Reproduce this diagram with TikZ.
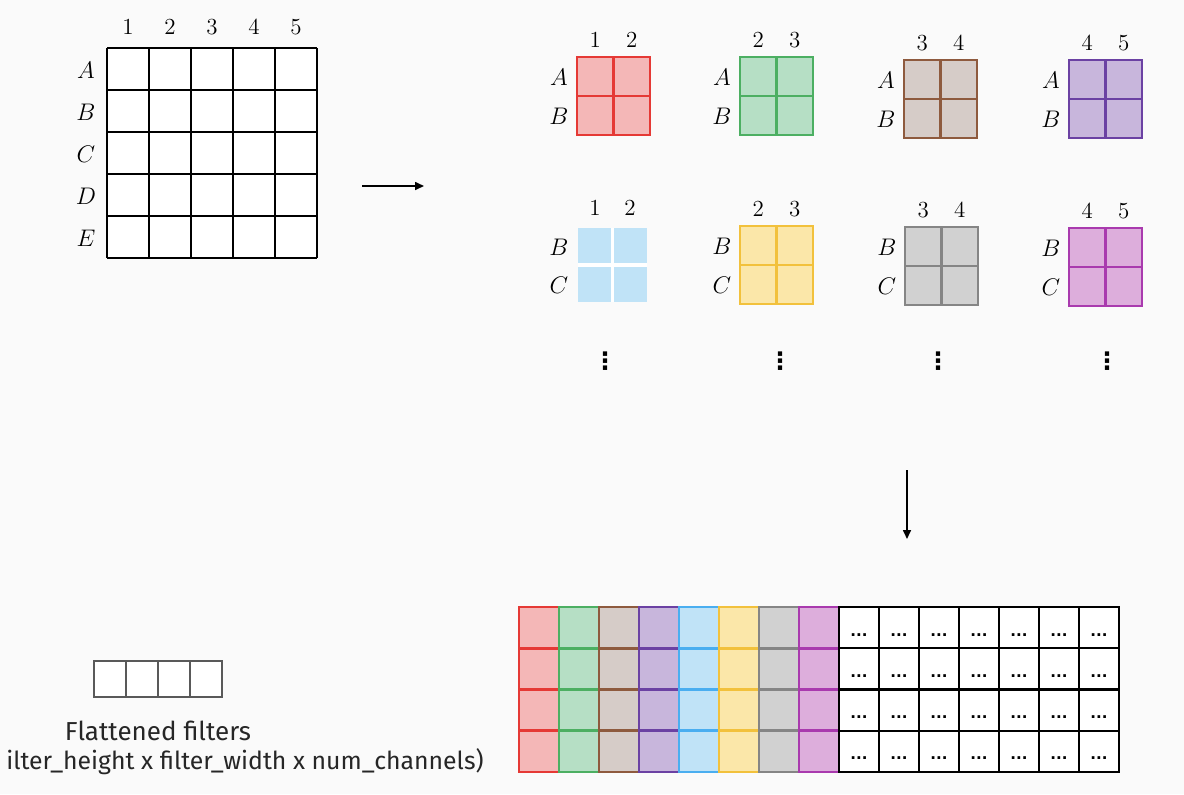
\documentclass[tikz,border=0pt]{standalone}
\usepackage{fontspec}
\setsansfont{Fira Sans}
\newfontfamily\symfont{DejaVu Sans}
\usetikzlibrary{arrows.meta, positioning}

\definecolor{bgpage}{HTML}{FAFAFA}
\definecolor{redL}{HTML}{E53935}
\definecolor{redF}{HTML}{F4B7B7}
\definecolor{greenL}{HTML}{4CAF62}
\definecolor{greenF}{HTML}{B6DFC5}
\definecolor{brownL}{HTML}{8E5A3E}
\definecolor{brownF}{HTML}{D6CCC8}
\definecolor{purpleL}{HTML}{6B41A3}
\definecolor{purpleF}{HTML}{C8B6DC}
\definecolor{blueL}{HTML}{4AAEF0}
\definecolor{blueF}{HTML}{C0E3F7}
\definecolor{yellowL}{HTML}{F2C13C}
\definecolor{yellowF}{HTML}{FBE7A9}
\definecolor{grayL}{HTML}{858585}
\definecolor{grayF}{HTML}{D1D1D1}
\definecolor{magentaL}{HTML}{A93AAE}
\definecolor{magentaF}{HTML}{DDAEDC}

\tikzset{
    lbl/.style={inner sep=0pt, font=\fontsize{11.5}{13}\selectfont},
    vdotstxt/.style={inner sep=0pt, font=\symfont\bfseries\fontsize{12}{13}\selectfont},
    gridline/.style={draw=black, line width=1pt},
    patch/.style={line width=1.3pt},
    flatcell/.style={draw=black!65, fill=white, line width=0.8pt},
    dotcell/.style={draw=black, fill=white, line width=1.2pt},
    dotstxt/.style={inner sep=0pt, anchor=base, font=\symfont\bfseries\fontsize{7.5}{9}\selectfont},
    caption/.style={inner sep=0pt, font=\sffamily\fontsize{13}{15}\selectfont, text=black!85},
    arrow/.style={-{Triangle[length=4.5pt, width=4pt]}, line width=0.8pt}
}

\begin{document}
\begin{tikzpicture}[x=0.5pt, y=-0.5pt]

        \useasboundingbox[fill=bgpage] (0,0) rectangle (1184,794);

        % -----------------------------------------------------------------
        % INPUT GRID 5x5
        % -----------------------------------------------------------------
        \fill[white] (107,48) rectangle (317,258);
        \foreach \k in {0,...,5} {
            \draw[gridline] (107+42*\k,48) -- (107+42*\k,258);
            \draw[gridline] (107,48+42*\k) -- (317,48+42*\k);
        }
        \foreach \i in {1,...,5} {
            \node[lbl] (col\i) at (86+42*\i, 27) {\i};
        }
        \foreach \r [count=\i] in {A,B,C,D,E} {
            \node[lbl] (row\r) at (86, 28+42*\i) {$\r$};
        }

        \coordinate (gridOut) at (362,186);
        \coordinate (patchIn) at (424,186);
        \draw[arrow] (gridOut) -- (patchIn);

        % -----------------------------------------------------------------
        % PATCHES 2x2
        % -----------------------------------------------------------------
        \foreach \px/\py/\pc/\ca/\cb/\ra/\rb [count=\n] in {577/57/red/1/2/A/B, 740/57/green/2/3/A/B, 904/60/brown/3/4/A/B, 1069/60/purple/4/5/A/B, 740/226/yellow/2/3/B/C, 905/227/gray/3/4/B/C, 1069/228/magenta/4/5/B/C} {
            \draw[patch, draw=\pc L, fill=\pc F] (\px,\py) rectangle ++(73,78);
            \draw[patch, draw=\pc L] (\px+36.5,\py) -- ++(0,78) (\px,\py+39) -- ++(73,0);
            \node[lbl] (pcol\n-1) at (\px+18.25,\py-17) {\ca};
            \node[lbl] (pcol\n-2) at (\px+54.75,\py-17) {\cb};
            \node[lbl] (prow\n-1) at (\px-18,\py+20) {$\ra$};
            \node[lbl] (prow\n-2) at (\px-18,\py+59) {$\rb$};
        }

        % patch senza bordo (azzurro)
        \fill[blueF] (578,228) rectangle ++(69,74);
        \draw[white, line width=1.6pt] (612.5,228) -- ++(0,74) (578,265) -- ++(69,0);
        \node[lbl] (pcolB-1) at (595,208) {1};
        \node[lbl] (pcolB-2) at (630,208) {2};
        \node[lbl] (prowB-1) at (559,247) {$B$};
        \node[lbl] (prowB-2) at (559,285) {$C$};

        \foreach \dx [count=\n] in {605,780,938,1107} {
            \node[vdotstxt] (vdots\n) at (\dx,361) {⋮};
        }

        \coordinate (patchOut) at (907,470);
        \coordinate (matIn) at (907,539);
        \draw[arrow] (patchOut) -- (matIn);

        % -----------------------------------------------------------------
        % MATRICE DEI FILTRI APPIATTITI
        % -----------------------------------------------------------------
        \foreach \pc [count=\k from 0] in {red,green,brown,purple,blue,yellow,gray,magenta} {
            \foreach \r in {0,...,3} {
                \draw[patch, draw=\pc L, fill=\pc F] (519+40*\k, 607+41.25*\r) rectangle ++(40,41.25);
            }
        }
        \foreach \k in {8,...,14} {
            \foreach \r in {0,...,3} {
                \draw[dotcell] (519+40*\k, 607+41.25*\r) rectangle ++(40,41.25);
                \node[dotstxt] (dots-\k-\r) at (539+40*\k, 636+41.25*\r) {...};
            }
        }

        % -----------------------------------------------------------------
        % LEGENDA
        % -----------------------------------------------------------------
        \foreach \k in {0,...,3} {
            \draw[flatcell] (94+32*\k,661) rectangle ++(32,36);
        }
        \node[caption, anchor=base] (flatA) at (158,740) {Flattened filters};
        \node[caption, anchor=base east, font=\sffamily\fontsize{12.4}{15}\selectfont] (flatB) at (484,769) {ilter\_height x filter\_width x num\_channels)};

    \end{tikzpicture}
\end{document}
